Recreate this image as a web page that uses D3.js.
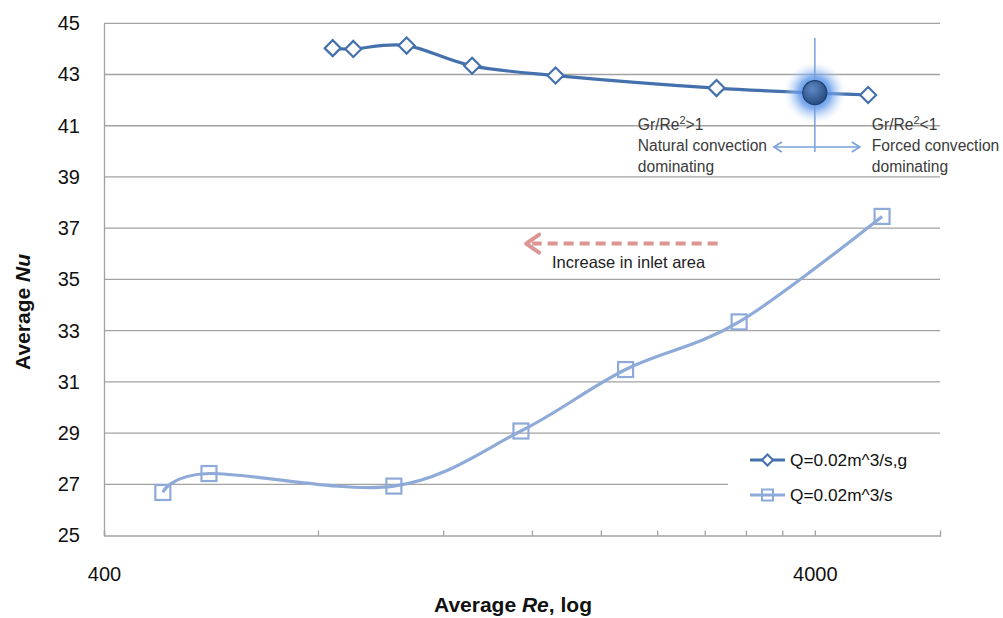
<!DOCTYPE html>
<html>
<head>
<meta charset="utf-8">
<script src="https://cdn.jsdelivr.net/npm/d3@7"></script>
<style>
  body { margin: 0; background: #fff; }
  text { font-family: "Liberation Sans", Arial, sans-serif; }
</style>
</head>
<body>
<svg id="chart" width="1003" height="618"></svg>
<script>
// Average Nusselt number vs. average Reynolds number (log scale)
const seriesNames = ["Q=0.02m^3/s,g", "Q=0.02m^3/s"];

// Series with gravity (buoyancy) effect
const reWithG = [839, 897, 1066, 1318, 1727, 2909, 4754];
const nuWithG = [44.03, 44.00, 44.13, 43.34, 42.96, 42.47, 42.20];

// Series without gravity
const reNoG = [484, 562, 1023, 1544, 2167, 3130, 4973];
const nuNoG = [26.68, 27.42, 26.93, 29.08, 31.48, 33.34, 37.46];

// Point where Gr/Re^2 = 1
const transitionRe = [4000];
const transitionNu = [42.29];

// Axis ticks
const yTicks = [25, 27, 29, 31, 33, 35, 37, 39, 41, 43, 45];
const xTicks = [400, 800, 1200, 1600, 2000, 2400, 2800, 3200, 3600, 4000];
const xTickLabels = [400, 4000];

// "Increase in inlet area" arrow, in data units
const inletArrowRe = [2920, 1570];
const inletArrowNu = [36.4, 36.4];

const svg = d3.select("#chart");
const x = d3.scaleLog().domain([400, 6000]).range([104, 940]);
const y = d3.scaleLinear().domain([25, 45]).range([535.5, 23.3]);

const gridColor = "#a2a2a2";
const darkBlue = "#4471ad";
const lightBlue = "#8eaad8";

// Horizontal gridlines
svg.append("g").selectAll("line")
  .data(yTicks.filter(d => d > 25))
  .join("line")
  .attr("x1", x.range()[0]).attr("x2", x.range()[1])
  .attr("y1", d => y(d)).attr("y2", d => y(d))
  .attr("stroke", gridColor).attr("stroke-width", 1.3);

// Y axis
const yAxis = svg.append("g")
  .attr("transform", `translate(${x.range()[0]},0)`)
  .call(d3.axisLeft(y).tickValues(yTicks).tickSize(0).tickPadding(24));
yAxis.select(".domain").attr("stroke", gridColor).attr("stroke-width", 1.3);
yAxis.selectAll("text")
  .attr("font-size", 20).attr("fill", "#111")
  .attr("font-family", "'Liberation Sans', Arial, sans-serif");

// X axis (ticks pointing into the plot)
const xAxis = svg.append("g")
  .attr("transform", `translate(0,${y(25)})`)
  .call(d3.axisBottom(x)
    .tickValues(xTicks)
    .tickSizeInner(-5).tickSizeOuter(-5)
    .tickPadding(31)
    .tickFormat(d => xTickLabels.includes(d) ? d3.format("d")(d) : ""));
xAxis.select(".domain").attr("stroke", gridColor).attr("stroke-width", 1.3);
xAxis.selectAll(".tick line").attr("stroke", gridColor).attr("stroke-width", 1.3);
xAxis.selectAll("text")
  .attr("font-size", 20).attr("fill", "#111")
  .attr("font-family", "'Liberation Sans', Arial, sans-serif");

// Axis titles
const xTitle = svg.append("text")
  .attr("x", 513).attr("y", 612)
  .attr("text-anchor", "middle")
  .attr("font-size", 21).attr("font-weight", "bold").attr("fill", "#111");
xTitle.append("tspan").text("Average ");
xTitle.append("tspan").attr("font-style", "italic").text("Re");
xTitle.append("tspan").text(", log");

const yTitle = svg.append("text")
  .attr("transform", "translate(30,312) rotate(-90)")
  .attr("text-anchor", "middle")
  .attr("font-size", 21).attr("font-weight", "bold").attr("fill", "#111");
yTitle.append("tspan").text("Average ");
yTitle.append("tspan").attr("font-style", "italic").text("Nu");

// Legend background (hides the gridline behind it)
svg.append("rect")
  .attr("x", 728).attr("y", 442).attr("width", 215).attr("height", 76)
  .attr("fill", "#fff");

// Smoothed lines
const smooth = d3.line()
  .x(d => x(d[0])).y(d => y(d[1]))
  .curve(d3.curveCardinal.tension(0));

const dataG = reWithG.map((r, i) => [r, nuWithG[i]]);
const dataN = reNoG.map((r, i) => [r, nuNoG[i]]);

svg.append("path").datum(dataN)
  .attr("d", smooth).attr("fill", "none")
  .attr("stroke", lightBlue).attr("stroke-width", 3.2);

svg.append("path").datum(dataG)
  .attr("d", smooth).attr("fill", "none")
  .attr("stroke", darkBlue).attr("stroke-width", 3.2);

// Square markers
const sq = 15;
svg.append("g").selectAll("rect")
  .data(dataN).join("rect")
  .attr("x", d => x(d[0]) - sq / 2).attr("y", d => y(d[1]) - sq / 2)
  .attr("width", sq).attr("height", sq)
  .attr("fill", "#fff").attr("fill-opacity", 0)
  .attr("stroke", lightBlue).attr("stroke-width", 2.2);

// Diamond markers
const dm = 8;
const diamond = (cx, cy, r) => `M${cx},${cy - r}L${cx + r},${cy}L${cx},${cy + r}L${cx - r},${cy}Z`;
svg.append("g").selectAll("path")
  .data(dataG).join("path")
  .attr("d", d => diamond(x(d[0]), y(d[1]), dm))
  .attr("fill", "#fff")
  .attr("stroke", darkBlue).attr("stroke-width", 2.2);

// Transition point highlight
const defs = svg.append("defs");
const glow = defs.append("radialGradient").attr("id", "glow");
glow.append("stop").attr("offset", "0%").attr("stop-color", "#3a7ae0").attr("stop-opacity", 1);
glow.append("stop").attr("offset", "50%").attr("stop-color", "#5f98ea").attr("stop-opacity", 0.8);
glow.append("stop").attr("offset", "100%").attr("stop-color", "#cfe0f8").attr("stop-opacity", 0);
const ball = defs.append("radialGradient").attr("id", "ball")
  .attr("cx", "40%").attr("cy", "35%").attr("r", "65%");
ball.append("stop").attr("offset", "0%").attr("stop-color", "#5f89c4");
ball.append("stop").attr("offset", "100%").attr("stop-color", "#284c82");

const tx = x(transitionRe[0]), ty = y(transitionNu[0]);
svg.append("circle").attr("cx", tx).attr("cy", ty).attr("r", 31).attr("fill", "url(#glow)");

// Vertical divider and two-headed arrow
const annBlue = "#76a0da";
svg.append("line")
  .attr("x1", tx).attr("x2", tx).attr("y1", 38).attr("y2", 152)
  .attr("stroke", annBlue).attr("stroke-width", 1.5);
svg.append("circle").attr("cx", tx).attr("cy", ty).attr("r", 12)
  .attr("fill", "url(#ball)").attr("stroke", "#1f3f6f").attr("stroke-width", 1.2);

const ay = 147;
svg.append("line")
  .attr("x1", tx - 40).attr("x2", tx + 44).attr("y1", ay).attr("y2", ay)
  .attr("stroke", annBlue).attr("stroke-width", 1.5);
svg.append("path")
  .attr("d", `M${tx - 33},${ay - 5}L${tx - 41},${ay}L${tx - 33},${ay + 5}M${tx + 37},${ay - 5}L${tx + 45},${ay}L${tx + 37},${ay + 5}`)
  .attr("fill", "none").attr("stroke", annBlue).attr("stroke-width", 1.5);

// Regime labels
const regimeFont = "Lato, 'Open Sans', sans-serif";
function regime(x0, sign, lines) {
  const t = svg.append("text")
    .attr("font-family", regimeFont).attr("font-size", 15.6).attr("fill", "#3a3a3a");
  const first = t.append("tspan").attr("x", x0).attr("y", 130).text("Gr/Re");
  first.append("tspan").attr("dy", -6).attr("font-size", 11).text("2");
  first.append("tspan").attr("dy", 6).text(sign + "1");
  lines.forEach((s, i) => t.append("tspan").attr("x", x0).attr("y", 151 + i * 21).text(s));
}
regime(tx - 177, ">", ["Natural convection", "dominating"]);
regime(tx + 57, "<", ["Forced convection", "dominating"]);

// Increase in inlet area arrow
const redC = "#dc9593";
const ax1 = x(inletArrowRe[0]), ax2 = x(inletArrowRe[1]), ary = y(inletArrowNu[0]);
svg.append("line")
  .attr("x1", ax1).attr("x2", ax2 + 6).attr("y1", ary).attr("y2", ary)
  .attr("stroke", redC).attr("stroke-width", 4).attr("stroke-dasharray", "10,6");
svg.append("path")
  .attr("d", `M${ax2 + 13},${ary - 9}L${ax2},${ary}L${ax2 + 13},${ary + 9}`)
  .attr("fill", "none").attr("stroke", redC).attr("stroke-width", 4)
  .attr("stroke-linecap", "round").attr("stroke-linejoin", "round");
svg.append("text")
  .attr("x", 552).attr("y", ary + 24)
  .attr("font-size", 16.5).attr("fill", "#222")
  .text("Increase in inlet area");

// Legend
const legend = svg.append("g");
const legendRows = [
  { name: seriesNames[0], color: darkBlue, mark: "diamond", yy: 460 },
  { name: seriesNames[1], color: lightBlue, mark: "square", yy: 495 }
];
legendRows.forEach(r => {
  legend.append("line")
    .attr("x1", 750).attr("x2", 785).attr("y1", r.yy).attr("y2", r.yy)
    .attr("stroke", r.color).attr("stroke-width", 3);
  if (r.mark === "diamond") {
    legend.append("path").attr("d", diamond(767.5, r.yy, 5.5))
      .attr("fill", "#fff").attr("stroke", r.color).attr("stroke-width", 2);
  } else {
    legend.append("rect").attr("x", 762).attr("y", r.yy - 5.5).attr("width", 11).attr("height", 11)
      .attr("fill", "none").attr("stroke", r.color).attr("stroke-width", 2);
  }
  legend.append("text").attr("x", 790).attr("y", r.yy + 6)
    .attr("font-size", 17.3).attr("fill", "#111").text(r.name);
});
</script>
</body>
</html>
